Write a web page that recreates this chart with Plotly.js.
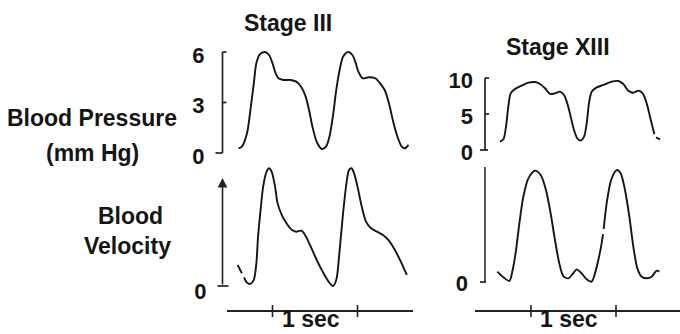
<!DOCTYPE html>
<html>
<head>
<meta charset="utf-8">
<script src="https://cdn.plot.ly/plotly-3.0.1.min.js"></script>
<style>html,body{margin:0;padding:0;background:#fff;}#chart{width:680px;height:334px;}</style>
</head>
<body>
<div id="chart"></div>
<script>
// ---- Data (time in seconds; pressure in mm Hg; velocity in relative units) ----
var t3P = [0.10,0.14,0.20,0.24,0.28,0.31,0.35,0.41,0.46,0.50,0.53,0.57,0.63,0.71,0.78,0.84,0.89,0.93,0.97,1.02,1.08,1.13,1.17,1.21,1.25,1.29,1.33,1.39,1.44,1.48,1.51,1.56,1.63,1.71,1.76,1.82,1.87,1.92,1.97,2.02,2.06,2.10];
var p3  = [0.28,0.38,1.17,2.55,4.14,5.33,5.86,6.00,5.82,5.33,4.83,4.44,4.34,4.34,4.24,3.90,3.35,2.55,1.56,0.67,0.24,0.38,0.97,2.16,3.74,4.93,5.72,6.00,5.82,5.33,4.83,4.44,4.50,4.44,4.18,3.74,2.95,1.86,0.97,0.38,0.28,0.48];

var t3V = [0.09,0.14,null,0.165,0.20,0.24,0.28,0.31,0.33,0.36,0.39,0.43,0.46,0.49,0.53,0.56,0.61,0.67,0.73,0.78,0.84,0.89,0.95,1.02,1.09,1.16,1.21,1.25,1.29,1.33,1.37,1.40,1.43,1.46,1.50,1.55,1.60,1.66,1.73,1.80,1.87,1.94,2.01,2.08];
var v3  = [19.4,11.7,null,8.0,3.1,1.9,5.6,21.0,45.7,70.4,92.0,105.9,109.0,105.9,92.0,76.5,65.7,57.4,51.9,50.3,51.2,46.3,36.4,24.1,13.3,4.0,0.0,5.6,33.3,67.3,95.1,107.4,109.0,104.3,92.0,73.5,59.6,53.4,50.3,47.2,42.0,33.3,22.5,10.2];

var t13P = [0.135,0.175,0.206,0.233,0.261,0.312,0.390,0.469,0.547,0.606,0.665,0.724,0.782,0.841,0.888,0.927,0.967,1.006,1.045,1.084,1.124,1.155,1.182,1.214,1.273,1.351,1.449,1.527,1.586,1.645,1.704,1.763,1.814,1.861,1.900,1.951,null,1.971,2.018];
var p13  = [1.16,1.48,3.24,6.02,7.87,8.47,8.94,9.35,9.44,9.17,8.57,7.78,7.87,8.10,7.64,6.48,4.63,2.78,1.62,1.30,1.85,3.70,6.48,8.10,8.70,9.03,9.49,9.58,9.17,8.24,7.96,8.24,7.87,6.48,4.63,2.18,null,1.76,1.48];

var t13V = [0.104,0.175,0.245,0.284,0.324,0.363,0.410,0.469,0.547,0.614,0.676,0.731,0.782,0.833,0.880,0.939,0.990,1.037,1.096,1.155,1.214,1.253,1.292,1.331,1.347,null,1.355,1.390,1.437,1.488,1.516,1.555,1.606,1.657,1.704,1.751,1.802,1.861,1.920,1.978,2.010];
var v13  = [9.0,4.1,0.9,10.4,27.8,51.0,74.2,90.1,96.8,93.0,80.0,59.7,36.5,16.2,5.2,3.2,7.0,11.0,7.5,2.3,0.3,7.5,19.1,33.6,41.7,null,46.1,68.4,87.2,95.9,97.4,94.5,80.0,56.8,30.7,11.9,4.6,3.2,4.6,9.9,9.0];

var p3Ticks = [0, 3, 6];
var p13Ticks = [0, 5, 10];
var velTicks = [0];
var velTop = 100;
var timeTicks = [0.5, 1.5];

var titles = {stage3: 'Stage III', stage13: 'Stage XIII', bp: 'Blood Pressure', unit: '(mm Hg)', bv1: 'Blood', bv2: 'Velocity', sec: '1 sec'};

// ---- Layout helpers (pixel -> paper) ----
var W = 680, H = 334;
function px(x){ return x / W; }
function py(y){ return (H - y) / H; }

var FONT = 'Liberation Sans, Arial, Helvetica, sans-serif';
var INK = '#151515';
var tickFont = {family: FONT, size: 22, color: INK, weight: 700};
var textFont = {family: FONT, size: 23, color: INK, weight: 700};
var lineStyle = {color: INK, width: 1.9, shape: 'spline', smoothing: 0.8};

var AX3 = 222.5, AX13 = 485;
var ax3 = px(AX3), ax13 = px(AX13);
var timeY = py(310);

var traces = [
  {x: t3P, y: p3, xaxis: 'x', yaxis: 'y2', mode: 'lines', line: lineStyle, connectgaps: false, hoverinfo: 'skip'},
  {x: t3V, y: v3, xaxis: 'x', yaxis: 'y', mode: 'lines', line: lineStyle, connectgaps: false, hoverinfo: 'skip'},
  {x: t13P, y: p13, xaxis: 'x2', yaxis: 'y4', mode: 'lines', line: lineStyle, connectgaps: false, hoverinfo: 'skip'},
  {x: t13V, y: v13, xaxis: 'x2', yaxis: 'y3', mode: 'lines', line: lineStyle, connectgaps: false, hoverinfo: 'skip'}
];

function timeAxis(d0, d1, r0, r1){
  return {domain: [d0, d1], range: [r0, r1], anchor: 'free', position: timeY,
    showline: true, linecolor: '#222', linewidth: 1.6, showgrid: false, zeroline: false,
    tickmode: 'array', tickvals: timeTicks, ticks: '', showticklabels: false, fixedrange: true};
}
function yMain(d0, d1, r0, r1, pos, vals, standoff, shift){
  return {domain: [d0, d1], range: [r0, r1], anchor: 'free', position: pos,
    showline: false, showgrid: false, zeroline: false,
    tickmode: 'array', tickvals: vals, ticktext: vals.map(String), ticks: '',
    tickfont: tickFont, ticklabelstandoff: standoff, ticklabelshift: shift, fixedrange: true};
}

// ranges derived from pixel calibration
var yIIIv = [(286-296)/1.08, (286-160)/1.08];
var yIIIp = [(153-160)/16.833, (153-45)/16.833];
var yXIIIv = [(282-296)/1.15, (282-160)/1.15];
var yXIIIp = [(150-160)/7.2, (150-70)/7.2];

// axis lines and tick marks (style elements) built from the tick arrays
var AXC = {color: '#222', width: 1.7};
var shapes = [
  {type: 'line', xref: 'paper', yref: 'y2', x0: ax3, x1: ax3, y0: p3Ticks[0], y1: p3Ticks[p3Ticks.length-1], line: AXC},
  {type: 'line', xref: 'paper', yref: 'y4', x0: ax13, x1: ax13, y0: p13Ticks[0], y1: p13Ticks[p13Ticks.length-1], line: AXC},
  {type: 'line', xref: 'paper', yref: 'y3', x0: ax13, x1: ax13, y0: 0, y1: velTop, line: {color: '#222', width: 1.5}}
];
function yTick(yref, axPix, val, a, b){
  shapes.push({type: 'line', xref: 'paper', yref: yref,
    x0: px(axPix + a), x1: px(axPix + b), y0: val, y1: val, line: {color: '#222', width: 1.7}});
}
p3Ticks.forEach(function(v){ if (v === 0) yTick('y2', AX3, v, -7, 0); else yTick('y2', AX3, v, 0, 4); });
p13Ticks.forEach(function(v){ if (v === 0) yTick('y4', AX13, v, -5, 3); else yTick('y4', AX13, v, 0, 4); });
velTicks.forEach(function(v){ yTick('y', AX3, v, -5, 6); yTick('y3', AX13, v, -5, 1); });
[['x', timeTicks], ['x2', timeTicks]].forEach(function(p){
  p[1].forEach(function(t){
    shapes.push({type: 'line', xref: p[0], yref: 'paper', ysizemode: 'pixel', yanchor: timeY,
      x0: t, x1: t, y0: -7, y1: 5, line: {color: '#222', width: 1.6}});
  });
});

function label(x, y, text, extra){
  var a = {xref: 'paper', yref: 'paper', x: px(x), y: py(y), text: text, showarrow: false,
    xanchor: 'center', yanchor: 'middle', font: textFont};
  if (extra) for (var k in extra) a[k] = extra[k];
  return a;
}

var layout = {
  width: W, height: H, margin: {l: 0, r: 0, t: 0, b: 0},
  paper_bgcolor: '#fff', plot_bgcolor: 'rgba(0,0,0,0)', showlegend: false,
  xaxis: timeAxis(px(227), px(413), (227-230)/85, (413-230)/85),
  xaxis2: timeAxis(px(475), 1, (475-488.5)/85, (680-488.5)/85),
  yaxis: yMain(py(296), py(160), yIIIv[0], yIIIv[1], ax3, velTicks, 16, 5),
  yaxis2: yMain(py(160), py(45), yIIIp[0], yIIIp[1], ax3, p3Ticks, 18, 3),
  yaxis3: yMain(py(296), py(160), yXIIIv[0], yXIIIv[1], ax13, velTicks, 17, 1),
  yaxis4: yMain(py(160), py(70), yXIIIp[0], yXIIIp[1], ax13, p13Ticks, 12, 2),
  shapes: shapes,
  annotations: [
    {xref: 'paper', yref: 'y', x: ax3, y: velTop, ax: 0, ay: 0, axref: 'pixel', ayref: 'y', text: '',
      showarrow: true, arrowhead: 2, arrowsize: 1.2, arrowwidth: 1.6, arrowcolor: '#222', standoff: 0, startstandoff: 0},
    label(287.5, 23, titles.stage3),
    label(557.5, 47, titles.stage13),
    label(92.5, 118, titles.bp),
    label(92.5, 153, titles.unit),
    label(130, 216, titles.bv1),
    label(127.5, 246, titles.bv2),
    label(311, 0, titles.sec, {y: 0, yanchor: 'bottom'}),
    label(569, 0, titles.sec, {y: 0, yanchor: 'bottom'})
  ]
};

Plotly.newPlot('chart', traces, layout, {staticPlot: true, displayModeBar: false});
</script>
</body>
</html>
